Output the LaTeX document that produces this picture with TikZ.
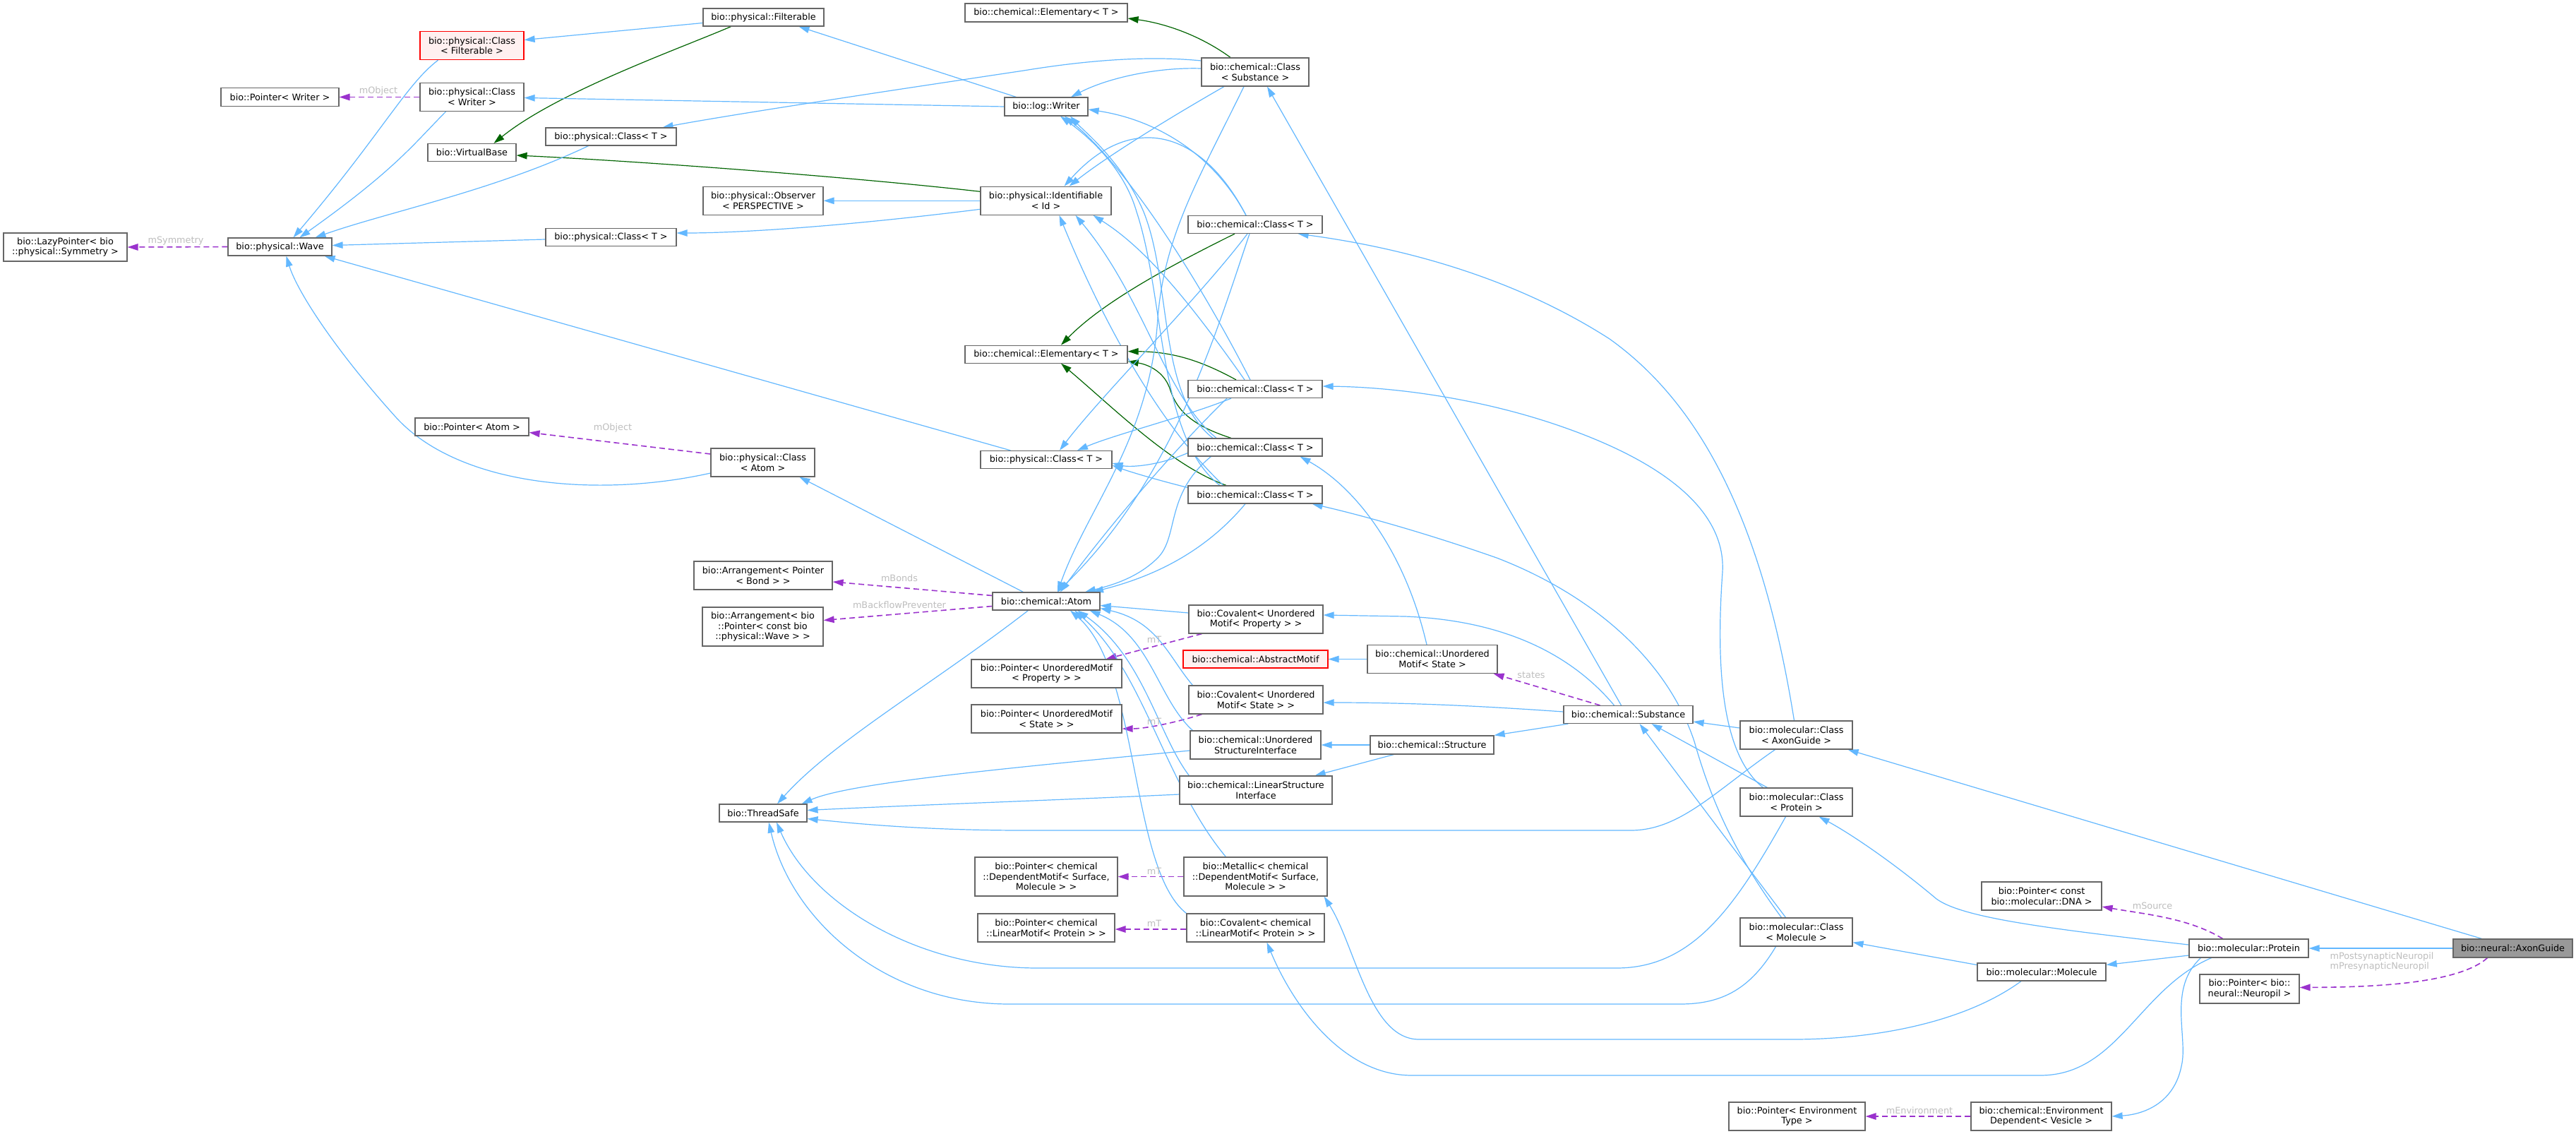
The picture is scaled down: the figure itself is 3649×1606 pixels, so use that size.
\documentclass[tikz,border=0pt]{standalone}
\usepackage{fontspec}
\setmainfont{DejaVu Sans}
\usetikzlibrary{arrows.meta,calc}
\definecolor{eblue}{HTML}{63B8FF}
\definecolor{egreen}{HTML}{006400}
\definecolor{epurple}{HTML}{9A32CD}
\definecolor{lgray}{HTML}{BEBEBE}
\definecolor{bgray}{HTML}{666666}
\definecolor{redfill}{HTML}{FFF0F0}
\definecolor{axfill}{HTML}{999999}
\newcommand\dgfont{\fontsize{12.8}{14.6}\selectfont}
\pgfdeclarelayer{back}
\pgfdeclarelayer{edges}
\pgfsetlayers{back,edges,main}
\tikzset{
  box/.style={draw=bgray, line width=1.2pt, fill=white, inner sep=0pt, align=center, font=\dgfont, rectangle},
  redbox/.style={box, draw=red, fill=redfill},
  sz/.style 2 args={minimum width=#1pt, minimum height=#2pt},
  inh/.style={draw=eblue, line width=1.2pt, -{Triangle[length=15pt,width=9.5pt]}},
  prot/.style={draw=egreen, line width=1.2pt, -{Triangle[length=15pt,width=9.5pt]}},
  mem/.style={draw=epurple, line width=1.6pt, dash pattern=on 8pt off 5pt, -{Triangle[length=15pt,width=9.5pt]}},
  lbl/.style={text=lgray, font=\dgfont, inner sep=0pt, align=left}
}
\begin{document}
\begin{tikzpicture}[x=1pt,y=-1pt]
\begin{pgfonlayer}{back}
\fill[white] (0,0) rectangle (3649,1606);
\end{pgfonlayer}
\useasboundingbox (0,0) rectangle (3649,1606);

% ---- nodes ----
\node[box,sz={175}{40}] (lazy) at (92.5,350) {bio::LazyPointer< bio\\::physical::Symmetry >};
\node[box,sz={147}{25}] (wave) at (396.5,349.5) {bio::physical::Wave};
\node[box,sz={167}{26}] (ptrwriter) at (396.5,137.5) {bio::Pointer< Writer >};
\node[redbox,sz={147}{40}] (clsfilt) at (668.5,64.6) {bio::physical::Class\\< Filterable >};
\node[box,sz={147}{40}] (clswriter) at (668.5,137.5) {bio::physical::Class\\< Writer >};
\node[box,sz={125}{25}] (vbase) at (668.5,216) {bio::VirtualBase};
\node[box,sz={185}{25}] (pclsA) at (865.5,193.5) {bio::physical::Class< T >};
\node[box,sz={185}{25}] (pclsB) at (865.5,336) {bio::physical::Class< T >};
\node[box,sz={161}{25}] (ptratom) at (668.5,604.5) {bio::Pointer< Atom >};
\node[box,sz={147}{40}] (clsatom) at (1080.5,655) {bio::physical::Class\\< Atom >};
\node[box,sz={171}{25}] (filterable) at (1081.5,24.5) {bio::physical::Filterable};
\node[box,sz={170}{40}] (observer) at (1081,284.3) {bio::physical::Observer\\< PERSPECTIVE >};
\node[box,sz={196}{40}] (arrbond) at (1081,815) {bio::Arrangement< Pointer\\< Bond > >};
\node[box,sz={171}{55}] (arrwave) at (1080.5,887.5) {bio::Arrangement< bio\\::Pointer< const bio\\::physical::Wave > >};
\node[box,sz={124}{25}] (threadsafe) at (1081,1151.5) {bio::ThreadSafe};
\node[box,sz={230}{26}] (elemA) at (1482,18) {bio::chemical::Elementary< T >};
\node[box,sz={118}{26}] (writer) at (1482,151) {bio::log::Writer};
\node[box,sz={185}{40}] (ident) at (1481.5,284.3) {bio::physical::Identifiable\\< Id >};
\node[box,sz={230}{25}] (elemB) at (1482,501.7) {bio::chemical::Elementary< T >};
\node[box,sz={186}{25}] (pclsC) at (1482,651) {bio::physical::Class< T >};
\node[box,sz={152}{25}] (atom) at (1482,851.5) {bio::chemical::Atom};
\node[box,sz={213}{40}] (ptrprop) at (1482.5,954) {bio::Pointer< UnorderedMotif\\< Property > >};
\node[box,sz={213}{40}] (ptrstate) at (1482.5,1018) {bio::Pointer< UnorderedMotif\\< State > >};
\node[box,sz={202}{55}] (ptrdep) at (1482,1241.5) {bio::Pointer< chemical\\::DependentMotif< Surface,\\Molecule > >};
\node[box,sz={194}{40}] (ptrlin) at (1482,1314) {bio::Pointer< chemical\\::LinearMotif< Protein > >};
\node[box,sz={152}{40}] (clssub) at (1778,102) {bio::chemical::Class\\< Substance >};
\node[box,sz={190}{25}] (cclsA) at (1778,318) {bio::chemical::Class< T >};
\node[box,sz={190}{25}] (cclsB) at (1778,551) {bio::chemical::Class< T >};
\node[box,sz={190}{25}] (cclsC) at (1778,633.5) {bio::chemical::Class< T >};
\node[box,sz={190}{25}] (cclsD) at (1778,700.5) {bio::chemical::Class< T >};
\node[box,sz={190}{40}] (covprop) at (1779,877) {bio::Covalent< Unordered\\Motif< Property > >};
\node[redbox,sz={205}{25}] (abstract) at (1778.5,933.5) {bio::chemical::AbstractMotif};
\node[box,sz={190}{40}] (covstate) at (1779,991) {bio::Covalent< Unordered\\Motif< State > >};
\node[box,sz={185}{40}] (usi) at (1778.5,1055) {bio::chemical::Unordered\\StructureInterface};
\node[box,sz={216}{40}] (lsi) at (1779,1119) {bio::chemical::LinearStructure\\Interface};
\node[box,sz={203}{55}] (metallic) at (1778.5,1241.5) {bio::Metallic< chemical\\::DependentMotif< Surface,\\Molecule > >};
\node[box,sz={195}{40}] (covlin) at (1778.5,1314) {bio::Covalent< chemical\\::LinearMotif< Protein > >};
\node[box,sz={184}{40}] (umstate) at (2029,933.5) {bio::chemical::Unordered\\Motif< State >};
\node[box,sz={175}{26}] (structure) at (2028.5,1055) {bio::chemical::Structure};
\node[box,sz={183}{25}] (substance) at (2306.5,1012) {bio::chemical::Substance};
\node[box,sz={159}{40}] (mclsaxon) at (2544.5,1041) {bio::molecular::Class\\< AxonGuide >};
\node[box,sz={159}{40}] (mclsprot) at (2544.5,1136) {bio::molecular::Class\\< Protein >};
\node[box,sz={159}{40}] (mclsmol) at (2544.5,1320) {bio::molecular::Class\\< Molecule >};
\node[box,sz={193}{40}] (ptrenv) at (2545.5,1581) {bio::Pointer< Environment\\Type >};
\node[box,sz={170}{40}] (ptrdna) at (2892,1269) {bio::Pointer< const\\bio::molecular::DNA >};
\node[box,sz={182}{25}] (molecule) at (2892,1376.5) {bio::molecular::Molecule};
\node[box,sz={199}{40}] (envdep) at (2891.5,1581) {bio::chemical::Environment\\Dependent< Vesicle >};
\node[box,sz={169}{26}] (protein) at (3185.5,1343) {bio::molecular::Protein};
\node[box,sz={141}{41}] (ptrneuro) at (3186.5,1400.5) {bio::Pointer< bio::\\neural::Neuropil >};
\node[box,fill=axfill,sz={169}{26}] (axon) at (3559.5,1343) {bio::neural::AxonGuide};

% ---- labels ----
\node[lbl] (lsym) at (249,341) {mSymmetry};
\node[lbl] (lobjw) at (536,129) {mObject};
\node[lbl] (lobja) at (868,606) {mObject};
\node[lbl] (lbonds) at (1274,819) {mBonds};
\node[lbl] (lback) at (1274,857) {mBackflowPreventer};
\node[lbl] (lmt1) at (1635,906) {mT};
\node[lbl] (lmt2) at (1635,1022) {mT};
\node[lbl] (lmt3) at (1635,1234) {mT};
\node[lbl] (lmt4) at (1635,1308) {mT};
\node[lbl] (lstates) at (2169,956) {states};
\node[lbl] (lsrc) at (3049,1283) {mSource};
\node[lbl] (lneuro) at (3374,1362) {mPostsynapticNeuropil\\mPresynapticNeuropil};
\node[lbl] (lenv) at (2719,1573) {mEnvironment};

\begin{pgfonlayer}{edges}
% ---- member (dashed) ----
\draw[mem] (wave.west) -- (lazy.east);
\draw[mem] (clswriter.west) -- (ptrwriter.east);
\draw[mem] ($(clsatom.west)+(0,-12)$) -- ($(ptratom.east)+(0,8)$);
\draw[mem] ($(atom.west)+(0,-8)$) -- ($(arrbond.east)+(0,9)$);
\draw[mem] ($(atom.west)+(0,7)$) -- ($(arrwave.east)+(0,-9)$);
\draw[mem] ($(covprop.south west)+(19,0)$) -- ($(ptrprop.north east)+(-23,0)$);
\draw[mem] ($(covstate.south west)+(19,0)$) .. controls (1660,1025) and (1620,1032) .. ($(ptrstate.east)+(0,14)$);
\draw[mem] (metallic.west) -- (ptrdep.east);
\draw[mem] ($(covlin.west)+(0,2)$) -- ($(ptrlin.east)+(0,2)$);
\draw[mem] ($(substance.north)+(-40,0)$) -- ($(umstate.south east)+(-6,0)$);
\draw[mem] ($(protein.north)+(-37,0)$) .. controls (3100,1300) and (3040,1295) .. ($(ptrdna.east)+(0,15)$);
\draw[mem] ($(axon.south)+(-36,0)$) .. controls (3480,1395) and (3350,1398) .. ($(ptrneuro.east)+(0,-2)$);
\draw[mem] (envdep.west) -- (ptrenv.east);

% ---- protected (green) ----
\draw[prot] ($(filterable.south)+(-46,0)$) .. controls (960,70) and (790,130) .. ($(vbase.north)+(31,0)$);
\draw[prot] ($(ident.west)+(0,-13)$) .. controls (1200,250) and (900,228) .. ($(vbase.east)+(0,4)$);
\draw[prot] ($(clssub.north)+(-35,0)$) .. controls (1700,50) and (1650,33) .. ($(elemA.east)+(0,8)$);
\draw[prot] ($(cclsA.south)+(-29,0)$) .. controls (1650,380) and (1560,430) .. ($(elemB.north)+(21,0)$);
\draw[prot] ($(cclsB.north)+(-27,0)$) .. controls (1700,510) and (1660,498) .. ($(elemB.east)+(0,-4)$);
\draw[prot] ($(cclsC.north)+(-34,0)$) .. controls (1680,600) and (1665,575) .. (1657,550) .. controls (1648,525) and (1625,516) .. ($(elemB.east)+(0,10)$);
\draw[prot] ($(cclsD.north)+(-41,0)$) .. controls (1660,660) and (1580,580) .. ($(elemB.south)+(21,0)$);

% ---- public (blue) : left part ----
\draw[inh] ($(filterable.west)+(0,8)$) -- ($(clsfilt.east)+(0,-8)$);
\draw[inh] ($(writer.north west)+(17,0)$) -- ($(filterable.south)+(50,0)$);
\draw[inh] (writer.west) -- ($(clswriter.east)+(0,1)$);
\draw[inh] ($(clssub.west)+(0,-5)$) .. controls (1640,95) and (1570,110) .. ($(writer.north)+(35,0)$);
\draw[inh] ($(clssub.west)+(0,-16)$) .. controls (1640,80) and (1560,82) .. (1450,100) .. controls (1250,130) and (1050,160) .. ($(pclsA.north east)+(-20,0)$);
\draw[inh] ($(clssub.south)+(-44,0)$) .. controls (1660,165) and (1570,220) .. ($(ident.north)+(33,0)$);
\draw[inh] ($(clssub.south)+(-16,0)$) .. controls (1700,250) and (1650,330) .. (1640,450) .. controls (1630,620) and (1540,720) .. ($(atom.north)+(16,0)$);
\draw[inh] ($(substance.north)+(-10,0)$) -- ($(clssub.south)+(17,0)$);
\draw[inh] (ident.west) -- (observer.east);
\draw[inh] ($(ident.west)+(0,12)$) .. controls (1200,320) and (1050,330) .. ($(pclsB.east)+(0,-6)$);
\draw[inh] ($(pclsA.south)+(-32,0)$) .. controls (700,270) and (550,300) .. ($(wave.north)+(50,0)$);
\draw[inh] ($(clsfilt.south)+(-48,0)$) .. controls (575,120) and (540,190) .. ($(wave.north)+(19,0)$);
\draw[inh] ($(clswriter.south)+(-37,0)$) .. controls (585,205) and (560,240) .. ($(wave.north)+(28,0)$);
\draw[inh] ($(pclsB.west)+(0,3)$) -- ($(wave.east)+(0,-2)$);
\draw[inh] ($(pclsC.north west)+(43,0)$) -- ($(wave.south east)+(-11,0)$);
\draw[inh] ($(clsatom.west)+(0,15)$) .. controls (850,705) and (650,690) .. (560,590) .. controls (470,490) and (420,410) .. ($(wave.south)+(9,0)$);
\draw[inh] ($(atom.north west)+(44,0)$) -- ($(clsatom.south)+(52,0)$);
\draw[inh] ($(atom.south west)+(51,0)$) .. controls (1320,970) and (1180,1050) .. ($(threadsafe.north)+(20,0)$);

% ---- into Atom from the right ----
\draw[inh] ($(covprop.west)+(0,-9)$) -- ($(atom.east)+(0,6)$);
\draw[inh] ($(covstate.north west)+(6,0)$) .. controls (1655,930) and (1640,880) .. ($(atom.east)+(0,10)$);
\draw[inh] ($(usi.north west)+(4,0)$) .. controls (1640,990) and (1630,900) .. ($(atom.south east)+(-15,0)$);
\draw[inh] ($(lsi.north west)+(14,0)$) .. controls (1640,1040) and (1620,930) .. ($(atom.south east)+(-32,0)$);
\draw[inh] ($(metallic.north west)+(60,0)$) .. controls (1650,1110) and (1620,950) .. ($(atom.south)+(40,0)$);
\draw[inh] (covlin.north west) .. controls (1600,1230) and (1615,950) .. ($(atom.south)+(34,0)$);

% ---- into ThreadSafe ----
\draw[inh] ($(usi.west)+(0,8)$) .. controls (1400,1090) and (1200,1110) .. ($(threadsafe.north east)+(-8,0)$);
\draw[inh] ($(lsi.west)+(0,6)$) .. controls (1500,1133) and (1300,1140) .. ($(threadsafe.east)+(0,-4)$);
\draw[inh] ($(mclsaxon.south)+(-30,0)$) .. controls (2430,1120) and (2380,1176) .. (2310,1176) -- (1450,1176) .. controls (1300,1176) and (1200,1165) .. ($(threadsafe.east)+(0,8)$);
\draw[inh] ($(mclsprot.south)+(-15,0)$) .. controls (2460,1280) and (2400,1371) .. (2290,1371) -- (1470,1371) .. controls (1300,1371) and (1150,1280) .. ($(threadsafe.south)+(19,0)$);
\draw[inh] ($(mclsmol.south)+(-29,0)$) .. controls (2480,1400) and (2440,1422) .. (2380,1422) -- (1430,1422) .. controls (1250,1422) and (1120,1300) .. ($(threadsafe.south)+(8,0)$);

% ---- structure / substance ----
\draw[inh] (structure.west) -- (usi.east);
\draw[inh] ($(structure.south west)+(34,0)$) -- ($(lsi.north east)+(-25,0)$);
\draw[inh] ($(substance.south west)+(7,0)$) -- (structure.north east);
\draw[inh] ($(substance.west)+(0,-4)$) .. controls (2100,1000) and (2000,995) .. ($(covstate.east)+(0,4)$);
\draw[inh] ($(substance.north)+(-20,0)$) .. controls (2220,920) and (2120,878) .. (1990,873) -- ($(covprop.east)+(0,-6)$);
\draw[inh] (umstate.west) -- (abstract.east);
\draw[inh] ($(umstate.north)+(-8,0)$) .. controls (1990,780) and (1920,690) .. ($(cclsC.south east)+(-32,0)$);

% ---- molecular ----
\draw[inh] ($(mclsaxon.west)+(0,-10)$) -- ($(substance.east)+(0,10)$);
\draw[inh] ($(mclsaxon.north)+(-3,0)$) .. controls (2500,760) and (2420,580) .. (2280,480) .. controls (2140,390) and (1980,350) .. ($(cclsA.south east)+(-35,0)$);
\draw[inh] ($(mclsprot.north)+(-41,0)$) -- ($(substance.south)+(33,0)$);
\draw[inh] ($(mclsprot.north)+(-47,0)$) .. controls (2440,1070) and (2430,950) .. (2440,810) .. controls (2445,720) and (2350,650) .. (2200,600) .. controls (2080,560) and (1960,548) .. ($(cclsB.east)+(0,-4)$);
\draw[inh] ($(mclsmol.north)+(-15,0)$) -- ($(substance.south)+(16,0)$);
\draw[inh] ($(mclsmol.north)+(-21,0)$) .. controls (2450,1200) and (2420,1120) .. (2400,1050) .. controls (2360,930) and (2250,840) .. (2120,790) .. controls (2020,755) and (1930,730) .. ($(cclsD.south east)+(-15,0)$);
\draw[inh] ($(protein.west)+(0,-5)$) .. controls (2900,1315) and (2780,1300) .. (2743,1273) .. controls (2680,1220) and (2620,1180) .. ($(mclsprot.south east)+(-48,0)$);
\draw[inh] ($(protein.west)+(0,10)$) -- ($(molecule.east)+(0,-10)$);
\draw[inh] ($(protein.south)+(-68,0)$) .. controls (3070,1400) and (3100,1470) .. (3090,1510) .. controls (3080,1560) and (3040,1578) .. (envdep.east);
\draw[inh] ($(protein.south)+(-53,0)$) .. controls (3030,1400) and (3000,1523) .. (2890,1523) -- (2000,1523) .. controls (1900,1523) and (1830,1420) .. ($(covlin.south)+(16,0)$);
\draw[inh] ($(molecule.west)+(0,-10)$) -- ($(mclsmol.south east)+(0,-6)$);
\draw[inh] ($(molecule.south)+(-29,0)$) .. controls (2780,1450) and (2650,1472) .. (2540,1472) -- (2010,1472) .. controls (1940,1472) and (1920,1340) .. ($(metallic.south east)+(-5,0)$);
\draw[inh] (axon.west) -- (protein.east);
\draw[inh] ($(axon.north)+(-44,0)$) -- ($(mclsaxon.south east)+(-7,0)$);

% ---- chemical::Class<T> edges ----
\draw[inh] ($(cclsA.north)+(-13,0)$) .. controls (1720,220) and (1640,170) .. ($(writer.east)+(0,4)$);
\draw[inh] ($(cclsA.north)+(-13,0)$) .. controls (1700,180) and (1600,160) .. ($(ident.north)+(26,0)$);
\draw[inh] ($(cclsA.south)+(-11,0)$) .. controls (1700,420) and (1560,560) .. ($(pclsC.north)+(19,0)$);
\draw[inh] ($(cclsA.south)+(-8,0)$) .. controls (1720,480) and (1660,680) .. ($(atom.north)+(16,0)$);

\draw[inh] ($(cclsB.north)+(-7,0)$) .. controls (1700,400) and (1600,240) .. ($(writer.south)+(26,0)$);
\draw[inh] ($(cclsB.north)+(-15,0)$) .. controls (1680,420) and (1620,350) .. ($(ident.south)+(67,0)$);
\draw[inh] ($(cclsB.south)+(-34,0)$) .. controls (1680,590) and (1580,615) .. ($(pclsC.north)+(44,0)$);
\draw[inh] ($(cclsB.south)+(-40,0)$) .. controls (1650,650) and (1560,760) .. ($(atom.north)+(20,0)$);

\draw[inh] ($(cclsC.north)+(-60,0)$) .. controls (1640,560) and (1660,400) .. (1620,300) .. controls (1590,230) and (1540,190) .. ($(writer.south)+(34,0)$);
\draw[inh] ($(cclsC.north)+(-55,0)$) .. controls (1650,560) and (1620,420) .. ($(ident.south)+(42,0)$);
\draw[inh] ($(cclsC.west)+(0,8)$) .. controls (1640,660) and (1600,662) .. ($(pclsC.east)+(0,5)$);
\draw[inh] ($(cclsC.south west)+(33,0)$) .. controls (1650,700) and (1670,760) .. (1640,790) .. controls (1610,820) and (1570,830) .. ($(atom.north)+(55,0)$);

\draw[inh] ($(cclsD.north)+(-50,0)$) .. controls (1640,620) and (1650,420) .. (1610,300) .. controls (1590,230) and (1530,185) .. ($(writer.south)+(20,0)$);
\draw[inh] ($(cclsD.north)+(-45,0)$) .. controls (1640,600) and (1560,450) .. ($(ident.south)+(19,0)$);
\draw[inh] ($(cclsD.west)+(0,-10)$) .. controls (1640,680) and (1600,668) .. ($(pclsC.east)+(0,8)$);
\draw[inh] ($(cclsD.south)+(-14,0)$) .. controls (1700,790) and (1620,820) .. ($(atom.north)+(66,0)$);
\end{pgfonlayer}
\end{tikzpicture}
\end{document}
